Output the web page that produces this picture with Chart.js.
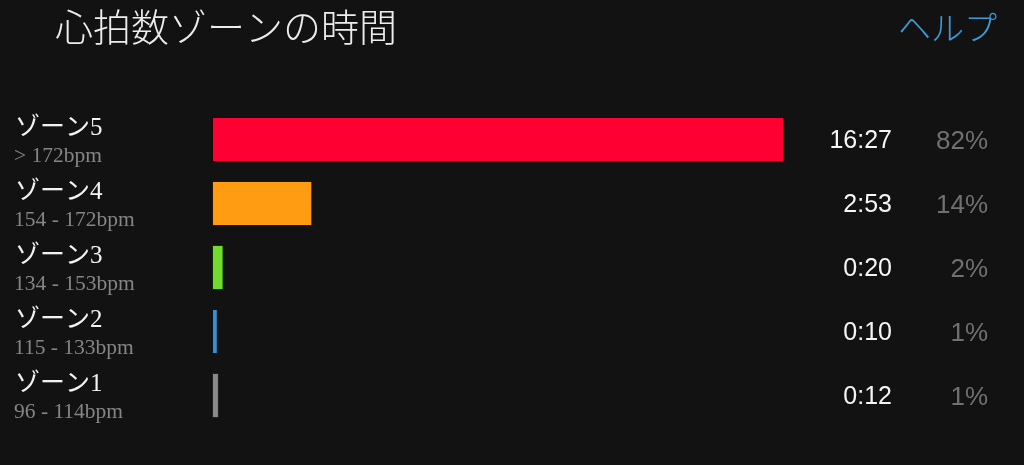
<!DOCTYPE html>
<html><head><meta charset="utf-8">
<script src="https://cdn.jsdelivr.net/npm/chart.js@4"></script>
<style>
html,body{margin:0;padding:0;background:#121212;}
#wrap{position:relative;width:1024px;height:465px;}
</style></head>
<body><div id="wrap"><canvas id="c" width="1024" height="465"></canvas></div>
<script>
const title = '心拍数ゾーンの時間';
const helpText = 'ヘルプ';
const zones = ['ゾーン5','ゾーン4','ゾーン3','ゾーン2','ゾーン1'];
const ranges = ['> 172bpm','154 - 172bpm','134 - 153bpm','115 - 133bpm','96 - 114bpm'];
const seconds = [987, 173, 20, 10, 12];
const timeLabels = ['16:27','2:53','0:20','0:10','0:12'];
const percents = ['82%','14%','2%','1%','1%'];
const fillColors = ['#ff0033','#ff9c12','#6fdc2e','#3a8fd0','#8a8a8a'];
const borderColors = ['#2a0008','#2a1500','#0f2a05','#061526','#202020'];

const textPlugin = {
  id: 'texts',
  afterDraw(chart){
    const ctx = chart.ctx;
    const y = chart.scales.y;
    ctx.save();
    ctx.textBaseline = 'middle';
    ctx.fillStyle = '#ececec';
    ctx.font = '300 38px "Noto Sans CJK JP"';
    ctx.textAlign = 'left';
    ctx.fillText(title, 55, 27);
    ctx.fillStyle = '#3e9ad6';
    ctx.font = '300 33px "Noto Sans CJK JP"';
    ctx.textAlign = 'right';
    ctx.fillText(helpText, 997, 27);
    zones.forEach((z,i)=>{
      const cy = y.getPixelForValue(i);
      ctx.textAlign = 'left';
      ctx.fillStyle = '#f2f2f2';
      ctx.font = '25px "Liberation Serif","Noto Sans CJK JP"';
      ctx.fillText(z, 15, cy - 11);
      ctx.fillStyle = '#858585';
      ctx.font = '21.5px "Liberation Serif"';
      ctx.fillText(ranges[i], 14, cy + 17);
      ctx.textAlign = 'right';
      ctx.fillStyle = '#f5f5f5';
      ctx.font = '25px "Liberation Sans"';
      ctx.fillText(timeLabels[i], 892, cy + 2);
      ctx.fillStyle = '#707070';
      ctx.font = '26px "Liberation Sans"';
      ctx.fillText(percents[i], 988, cy + 2);
    });
    ctx.restore();
  }
};

new Chart(document.getElementById('c'), {
  type: 'bar',
  data: {
    labels: zones,
    datasets: [{
      data: seconds,
      backgroundColor: fillColors,
      borderColor: borderColors,
      borderWidth: 1,
      borderSkipped: false,
      barPercentage: 0.7,
      categoryPercentage: 1.0
    }]
  },
  options: {
    indexAxis: 'y',
    responsive: false,
    animation: false,
    layout: { padding: { left: 212, right: 240, top: 107.5, bottom: 37.5 } },
    scales: {
      x: { display: false, min: 0, max: 987 },
      y: { display: false }
    },
    plugins: { legend: { display: false }, tooltip: { enabled: false }, title: { display: false } }
  },
  plugins: [textPlugin]
});
</script>
</body></html>
